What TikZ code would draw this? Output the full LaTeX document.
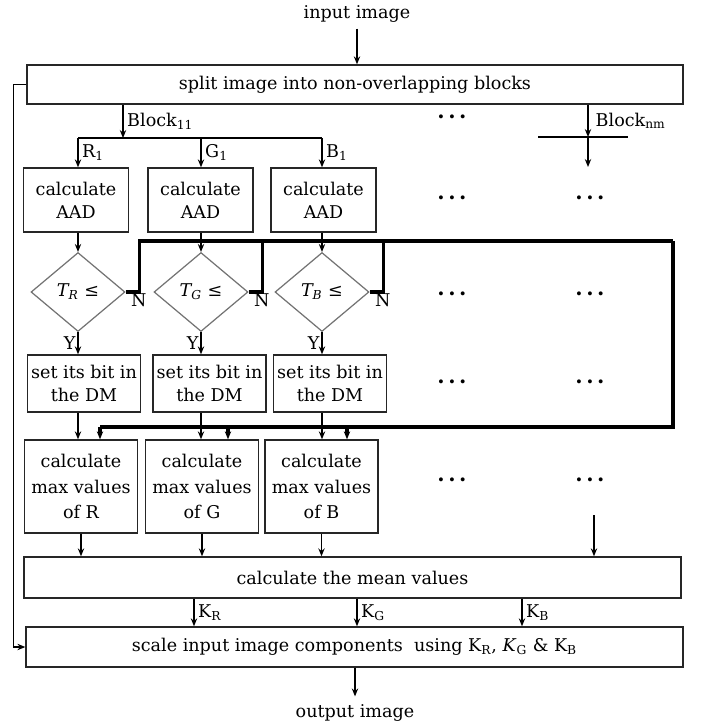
\documentclass[tikz,border=0pt]{standalone}
\usepackage{fontspec}
\setmainfont{DejaVu Serif}
\usetikzlibrary{positioning, arrows.meta, shapes.geometric, calc}

\begin{document}
\begin{tikzpicture}[
    x=0.02cm, y=-0.02cm,
    box/.style={rectangle, draw=black!85, line width=0.8pt, inner sep=1pt,
                align=center, font=\fontsize{10}{13}\selectfont},
    wide/.style={box, minimum width=13.14cm, minimum height=0.8cm},
    aad/.style={box, minimum width=2.1cm, minimum height=1.28cm},
    dm/.style={box, minimum width=2.26cm, minimum height=1.14cm},
    mx/.style={box, minimum width=2.26cm, minimum height=1.86cm,
               font=\fontsize{10}{14.5}\selectfont},
    decision/.style={diamond, draw=black!55, line width=0.7pt, inner sep=0pt,
                     minimum width=1.88cm, minimum height=1.58cm},
    arrow/.style={-{Stealth[length=4.5pt, width=3.6pt]}, line width=0.8pt},
    bar/.style={line width=1.8pt},
    lbl/.style={font=\fontsize{10}{12}\selectfont, inner sep=1pt},
    dots/.style={font=\large\bfseries},
]
    \useasboundingbox (0,0) rectangle (704,728);

    % Input and block splitting
    \node (in) at (357,14) {input image};
    \node[wide, minimum width=13.12cm, minimum height=0.78cm] (split) at (355,84.5)
        {split image into non-overlapping blocks};
    \draw[arrow] (in.south) -- (in.south |- split.north);

    % One column per colour channel
    \node[aad] (aadR) at (76,200)    {calculate\\AAD};
    \node[aad] (aadG) at (200.5,200) {calculate\\AAD};
    \node[aad] (aadB) at (323.5,200) {calculate\\AAD};

    \node[decision] (tR) at (78,292)  {\textit{T\textsubscript{R}} ≤};
    \node[decision] (tG) at (201,292) {\textit{T\textsubscript{G}} ≤};
    \node[decision] (tB) at (322,292) {\textit{T\textsubscript{B}} ≤};

    \node[dm] (dmR) at (84,383.5)  {set its bit in\\the DM};
    \node[dm] (dmG) at (209.5,383.5) {set its bit in\\the DM};
    \node[dm] (dmB) at (330,383.5) {set its bit in\\the DM};

    \node[mx] (maxR) at (81,486.5)    {calculate\\max values\\of R};
    \node[mx] (maxG) at (202,486.5)   {calculate\\max values\\of G};
    \node[mx] (maxB) at (321.5,486.5) {calculate\\max values\\of B};

    \node[wide, minimum height=0.82cm] (mean) at (352.5,577.5) {calculate the mean values};
    \node[wide] (scale) at (354.5,647)
        {scale input image components \ using K\textsubscript{R}, \textit{K}\textsubscript{G} \& K\textsubscript{B}};
    \node (out) at (355,713) {output image};

    % Block_11 fork into R, G, B
    \coordinate (fork) at (123,138);
    \draw[arrow] (split.south -| fork) -- (fork)
        node[lbl, midway, right=1pt] {Block\textsubscript{11}};
    \draw[line width=0.8pt] (fork -| tR) -- (fork -| tB);
    \draw[arrow] (fork -| tR) -- (tR |- aadR.north) node[lbl, midway, right=1pt] {R\textsubscript{1}};
    \draw[arrow] (fork -| tG) -- (tG |- aadG.north) node[lbl, midway, right=1pt] {G\textsubscript{1}};
    \draw[arrow] (fork -| tB) -- (tB |- aadB.north) node[lbl, midway, right=1pt] {B\textsubscript{1}};

    % Block_nm
    \coordinate (nm) at (588,137);
    \coordinate (nmEnd) at (588,167);
    \draw[arrow] (split.south -| nm) -- (nm)
        node[lbl, midway, right=3pt] {Block\textsubscript{nm}};
    \draw[line width=0.8pt] ($(nm)+(-50,0)$) -- ($(nm)+(40,0)$);
    \draw[arrow] (nm) -- (nmEnd);

    % Column flow
    \foreach \c in {R,G,B} {
        \draw[arrow] (aad\c.south -| t\c) -- (t\c.north);
        \draw[arrow] (t\c.south) -- (t\c.south |- dm\c.north)
            node[lbl, midway, left=0pt] {Y};
        \node[lbl, below right=0pt and 2pt of t\c.east] (n\c) {N};
        \draw[arrow] (dm\c.south -| t\c) -- (t\c |- max\c.north);
        \draw[arrow] (max\c.south) -- (max\c.south |- mean.north);
    }

    % N branch: thick loop back to the max value boxes
    \coordinate (nTop) at (673,241);
    \coordinate (nBot) at (673,427);
    \coordinate (fbR) at (100,427);
    \coordinate (fbG) at (228,427);
    \coordinate (fbB) at (347,427);
    \foreach \c in {R,G,B}
        \draw[bar] (t\c.east) -- ++(14,0) |- (nTop);
    \draw[bar] (nTop) -- (nBot) -- (fbR);
    \foreach \c in {R,G,B}
        \draw[bar, arrow, line width=1.8pt] (fb\c) -- (fb\c |- max\c.north);

    % Remaining blocks
    \node[dots] (dTop) at (452,117) {.\,.\,.};
    \foreach \y in {198,294,382,480} {
        \node[dots] (dA\y) at (452,\y) {.\,.\,.};
        \node[dots] (dB\y) at (590,\y) {.\,.\,.};
    }
    \coordinate (dotsIn) at (594,515);
    \draw[arrow] (dotsIn) -- (dotsIn |- mean.north);

    % Mean values into scaling
    \coordinate (kR) at (194,0);
    \coordinate (kG) at (357,0);
    \coordinate (kB) at (522,0);
    \foreach \k in {R,G,B}
        \draw[arrow] (mean.south -| k\k) -- (scale.north -| k\k)
            node[lbl, midway, right=1pt] {K\textsubscript{\k}};

    % Feedback of the input image and output
    \draw[arrow] (split.west) -- ++(-13,0) |- (scale.west);
    \draw[arrow] (scale.south -| out) -- ($(out.north)+(0,-2)$);
\end{tikzpicture}
\end{document}
